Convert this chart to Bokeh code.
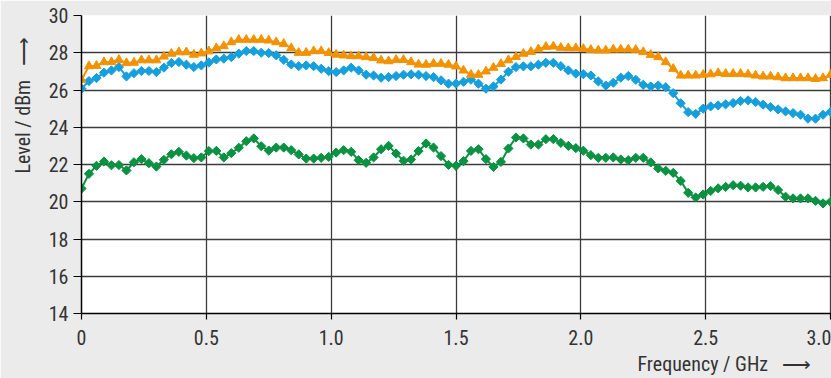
import subprocess
from math import pi

import numpy as np
from bokeh.embed import file_html
from bokeh.models import FixedTicker, Range1d, Title
from bokeh.plotting import figure
from bokeh.resources import INLINE

# Measured level traces (dBm), one sample every 30 MHz from 0 to 3 GHz
freq_step_ghz = 0.03

level_upper = [
    26.55, 27.28, 27.30, 27.50, 27.50, 27.62, 27.45, 27.47, 27.60, 27.60,
    27.60, 27.80, 27.95, 28.03, 28.03, 27.90, 27.97, 28.08, 28.25, 28.36,
    28.57, 28.70, 28.70, 28.70, 28.70, 28.66, 28.57, 28.48, 28.25, 28.00,
    28.00, 28.09, 28.09, 27.99, 27.90, 27.86, 27.82, 27.82, 27.77, 27.73,
    27.59, 27.55, 27.62, 27.62, 27.50, 27.37, 27.36, 27.41, 27.41, 27.36,
    27.27, 27.05, 26.82, 26.82, 27.00, 27.20, 27.40, 27.60, 27.78, 27.95,
    28.05, 28.19, 28.32, 28.34, 28.27, 28.25, 28.25, 28.21, 28.16, 28.13,
    28.13, 28.18, 28.18, 28.18, 28.16, 28.04, 27.89, 27.77, 27.50, 27.14,
    26.78, 26.78, 26.78, 26.82, 26.85, 26.91, 26.87, 26.87, 26.87, 26.84,
    26.78, 26.73, 26.73, 26.69, 26.64, 26.64, 26.64, 26.64, 26.60, 26.64,
    26.82,
]

level_middle = [
    26.07, 26.48, 26.64, 26.93, 27.05, 27.23, 26.73, 26.90, 27.02, 27.02,
    26.96, 27.20, 27.45, 27.50, 27.36, 27.23, 27.32, 27.48, 27.64, 27.68,
    27.77, 27.95, 28.09, 28.09, 28.00, 27.98, 27.86, 27.62, 27.37, 27.28,
    27.32, 27.28, 27.14, 27.01, 26.96, 27.05, 27.20, 27.05, 26.82, 26.78,
    26.66, 26.69, 26.75, 26.82, 26.84, 26.82, 26.75, 26.69, 26.52, 26.34,
    26.34, 26.44, 26.55, 26.34, 26.07, 26.19, 26.56, 26.98, 27.23, 27.27,
    27.27, 27.36, 27.46, 27.46, 27.28, 27.05, 26.88, 26.85, 26.78, 26.46,
    26.24, 26.39, 26.66, 26.75, 26.55, 26.28, 26.19, 26.24, 26.15, 25.83,
    25.29, 24.81, 24.72, 25.00, 25.12, 25.17, 25.23, 25.30, 25.41, 25.44,
    25.35, 25.21, 25.08, 24.96, 24.85, 24.76, 24.67, 24.46, 24.46, 24.67,
    24.82,
]

level_lower = [
    20.71, 21.50, 21.93, 22.16, 21.96, 21.97, 21.68, 22.12, 22.29, 22.07,
    21.89, 22.25, 22.55, 22.68, 22.48, 22.34, 22.38, 22.72, 22.73, 22.38,
    22.61, 22.90, 23.25, 23.40, 22.98, 22.75, 22.91, 22.91, 22.77, 22.54,
    22.32, 22.32, 22.36, 22.41, 22.64, 22.77, 22.68, 22.23, 22.09, 22.38,
    22.82, 23.00, 22.59, 22.20, 22.27, 22.72, 23.13, 22.91, 22.45, 21.98,
    21.93, 22.18, 22.73, 22.82, 22.29, 21.87, 22.14, 22.86, 23.45, 23.40,
    23.07, 23.07, 23.36, 23.36, 23.16, 23.00, 22.88, 22.74, 22.50, 22.36,
    22.36, 22.38, 22.27, 22.23, 22.36, 22.36, 22.11, 21.79, 21.66, 21.55,
    21.12, 20.48, 20.23, 20.39, 20.58, 20.72, 20.80, 20.89, 20.86, 20.77,
    20.77, 20.80, 20.84, 20.63, 20.27, 20.18, 20.18, 20.18, 20.05, 19.91,
    20.00,
]

freq_ghz = np.round(np.arange(len(level_upper)) * freq_step_ghz, 2)

x_ticks = [0.0, 0.5, 1.0, 1.5, 2.0, 2.5, 3.0]
x_tick_labels = ["0", "0.5", "1.0", "1.5", "2.0", "2.5", "3.0"]
y_ticks = [14, 16, 18, 20, 22, 24, 26, 28, 30]

ARROW = "\u00a0\u00a0\u00a0\u27f6"
y_title = "Level / dBm" + ARROW
x_title = "Frequency / GHz" + ARROW


def font_installed(family):
    try:
        out = subprocess.run(["fc-list", f":family={family}", "family"],
                             capture_output=True, text=True, timeout=10).stdout
        return bool(out.strip())
    except Exception:
        return False


# narrow sans faces first; fall back to a regular sans at a smaller size
FONT, FONT_PX = "Roboto", 18
for family, size_px in [("Liberation Sans Narrow", 20), ("Roboto Condensed", 20),
                        ("DejaVu Sans Condensed", 18)]:
    if font_installed(family):
        FONT, FONT_PX = family, size_px
        break
FONT_SIZE = f"{FONT_PX}px"
TEXT_COLOR = "#333333"
GRID_COLOR = "#3c3c3c"

p = figure(
    width=831, height=378,
    output_backend="svg", toolbar_location=None,
    x_range=Range1d(0, 3.004), y_range=Range1d(14, 30),
    min_border_left=81, min_border_right=0,
    min_border_top=15, min_border_bottom=65,
    background_fill_color="white", border_fill_color="#ebebeb",
    outline_line_color=None,
)

# axes
p.xaxis.ticker = FixedTicker(ticks=x_ticks)
p.xaxis.major_label_overrides = dict(zip(x_ticks, x_tick_labels))
p.yaxis.ticker = FixedTicker(ticks=y_ticks)
p.xaxis.minor_tick_line_color = None
p.yaxis.minor_tick_line_color = None
for ax in (p.xaxis, p.yaxis):
    ax.axis_line_color = "black"
    ax.axis_line_width = 1.5
    ax.major_tick_line_color = "black"
    ax.major_tick_line_width = 1.2
    ax.major_tick_in = 0
    ax.major_label_text_font = FONT
    ax.major_label_text_font_size = FONT_SIZE
    ax.major_label_text_color = TEXT_COLOR
p.yaxis.major_tick_out = 8
p.yaxis.major_label_standoff = 5
p.xaxis.major_tick_out = 6
p.xaxis.major_label_standoff = 10

p.grid.grid_line_color = GRID_COLOR
p.grid.grid_line_width = 1.3

# traces
series = [
    (level_lower, "#0a9141", "square", 6.5, pi / 4),
    (level_middle, "#159fdc", "square", 6.5, pi / 4),
    (level_upper, "#f39200", "triangle", 9, 0),
]
for levels, color, marker, size, angle in series:
    p.line(freq_ghz, levels, line_color=color, line_width=2)
    p.scatter(freq_ghz, levels, marker=marker, size=size, angle=angle,
              fill_color=color, line_color=color, line_width=1)

# axis titles with their direction arrows
p.add_layout(Title(
    text=y_title, align="left", offset=140, standoff=18,
    vertical_align="top",
    text_font=FONT, text_font_size=FONT_SIZE, text_font_style="normal",
    text_color=TEXT_COLOR,
), "left")
p.add_layout(Title(
    text=x_title, align="left", offset=556, standoff=4,
    vertical_align="bottom",
    text_font=FONT, text_font_size=FONT_SIZE, text_font_style="normal",
    text_color=TEXT_COLOR,
), "below")

open("out.html", "w").write(file_html(p, INLINE))
